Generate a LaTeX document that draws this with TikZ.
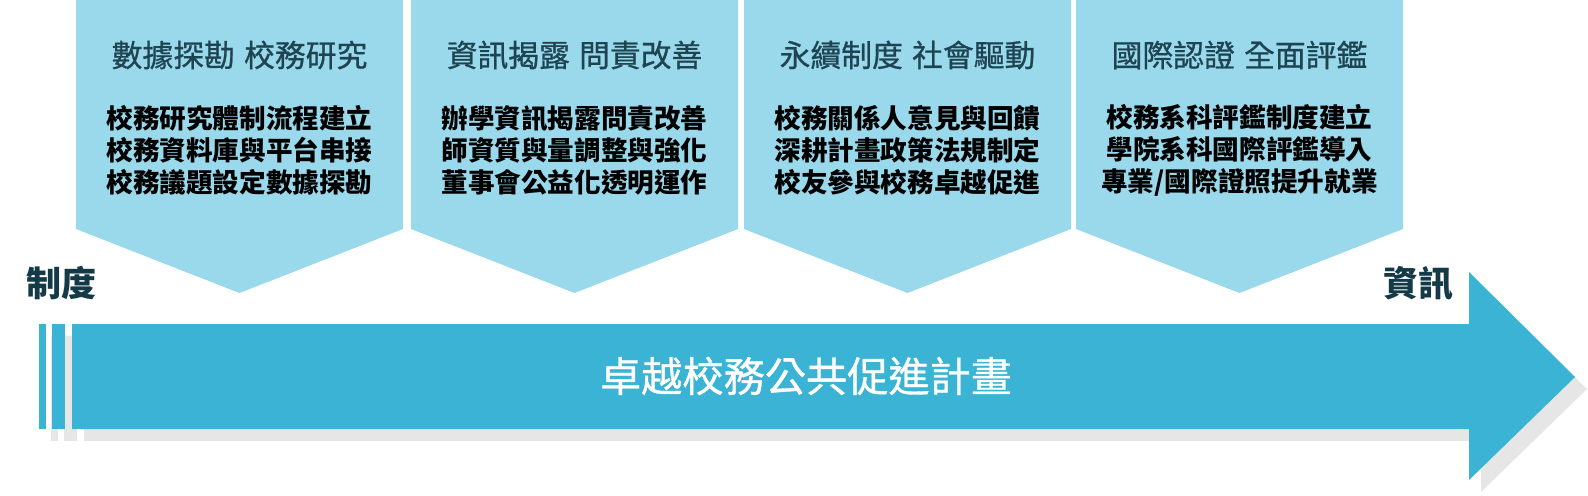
\documentclass[tikz,border=0pt]{standalone}
\usepackage{fontspec}
\newfontfamily\cjk{Noto Sans CJK TC}
\newfontfamily\cjkmid{Noto Sans CJK TC}[FakeBold=0.8]
\usetikzlibrary{positioning}
\definecolor{tagblue}{HTML}{9AD9EC}
\definecolor{barblue}{HTML}{3AB3D4}
\definecolor{shadowgray}{HTML}{E6E6E6}
\definecolor{headink}{HTML}{1E4452}
\definecolor{sideink}{HTML}{143A48}

\begin{document}
\begin{tikzpicture}[x=0.5pt, y=-0.5pt, tag/.style={
  % The shape:
  fill=tagblue},
  head/.style={
  % The title line:
  inner sep=0, text=headink,
      font=\cjkmid\fontsize{15.4}{18}\selectfont},
  body/.style={
  % The three lines:
  inner sep=0, align=center,
      font=\cjk\bfseries\fontsize{13.3}{16}\selectfont},
  side/.style={inner sep=0, text=sideink,
      font=\cjk\bfseries\fontsize{17.5}{20}\selectfont},
  plan/.style={inner sep=0, text=white,
      font=\cjkmid\fontsize{20.6}{24}\selectfont}]
  \useasboundingbox (0,0) rectangle (1588,495);

  \fill [tag] (76,0) -- (403,0) -- (403,229) -- (239.5,293) -- (76,229) -- cycle;
  \fill [tag] (411,0) -- (738,0) -- (738,229) -- (574.5,293) -- (411,229) -- cycle;
  \fill [tag] (744,0) -- (1071,0) -- (1071,229) -- (907.5,293) -- (744,229) -- cycle;
  \fill [tag] (1076,0) -- (1403,0) -- (1403,229) -- (1239.5,293) -- (1076,229) -- cycle;

  \node [head] (h1) at (239.5,55) {數據探勘\hspace{0.3em}校務研究};
  \node [head] (h2) at (574.5,55) {資訊揭露\hspace{0.3em}問責改善};
  \node [head] (h3) at (907.5,55) {永續制度\hspace{0.3em}社會驅動};
  \node [head] (h4) at (1239.5,55) {國際認證\hspace{0.3em}全面評鑑};

  \node [body] (b1) at (239.5,150) {校務研究體制流程建立\\ 校務資料庫與平台串接\\ 校務議題設定數據探勘};
  \node [body] (b2) at (574.5,150) {辦學資訊揭露問責改善\\ 師資質與量調整與強化\\ 董事會公益化透明運作};
  \node [body] (b3) at (907.5,150) {校務關係人意見與回饋\\ 深耕計畫政策法規制定\\ 校友參與校務卓越促進};
  \node [body] (b4) at (1239.5,150) {校務系科評鑑制度建立\\ 學院系科國際評鑑導入\\ 專業/國際證照提升就業};

  % shadow first, then the arrow
  \begin{scope}[shift={(12,12)}]
    \fill [shadowgray] (39,324) rectangle (46,429);
    \fill [shadowgray] (52,324) rectangle (65,429);
    \fill [shadowgray] (72,324) -- (1469,324) -- (1469,272) -- (1575,377)
      -- (1469,480) -- (1469,429) -- (72,429) -- cycle;
  \end{scope}
  \fill [barblue] (39,324) rectangle (46,429);
  \fill [barblue] (52,324) rectangle (65,429);
  \fill [barblue] (72,324) -- (1469,324) -- (1469,272) -- (1575,377)
    -- (1469,480) -- (1469,429) -- (72,429) -- cycle;

  \node [plan] (plan) at (806,376) {卓越校務公共促進計畫};
  \node [side] (sys) at (61,283) {制度};
  \node [side] (info) at (1418,283) {資訊};

  \end{tikzpicture}
\end{document}
